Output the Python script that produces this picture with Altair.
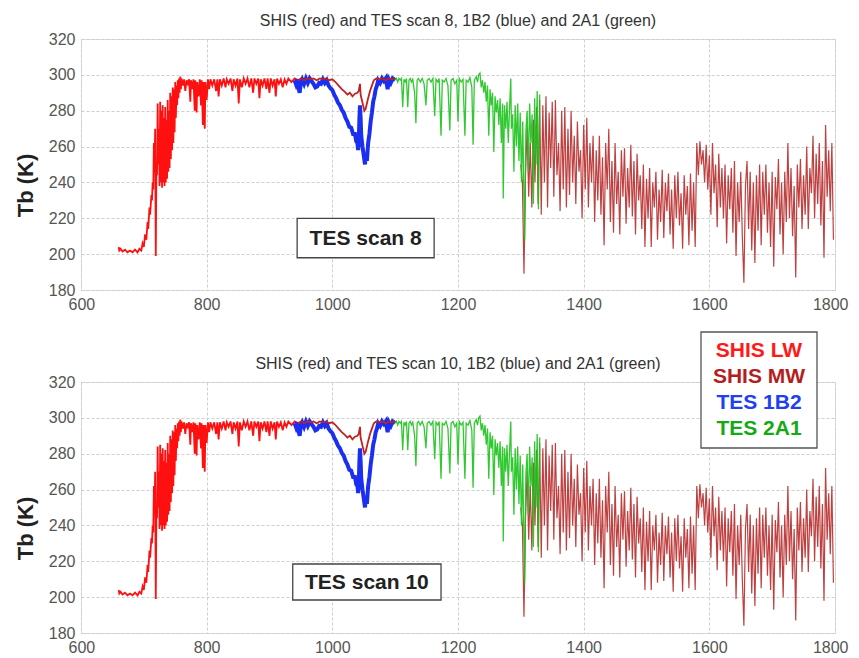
import altair as alt
import pandas as pd
import numpy as np

FONT = "Liberation Sans"

# ---------------- data ----------------
# SHIS longwave (bright red part) wavenumber / Tb
lw_wn = [660, 661, 663, 666, 670, 674, 678, 682, 686, 690, 693, 696, 698, 700, 702, 704, 706, 707, 709, 710,
         712, 713, 714, 715, 716, 717, 718, 719, 720, 721, 722, 723, 724, 725, 726, 727, 728, 729, 730, 731,
         732, 733, 734, 735, 736, 737, 738, 739, 740, 741, 742, 743, 744, 745, 746, 747, 748, 749, 750, 751,
         752, 753, 754, 755, 756, 757, 758, 759, 760, 762, 764, 766, 768, 770, 772, 774, 775, 777, 779, 781,
         782, 784, 785, 787, 789, 791, 792, 794, 795, 797, 798, 800, 802, 804, 806, 809, 812, 815, 817, 819,
         821, 824, 827, 830, 832, 835, 838, 841, 843, 846, 849, 851, 853, 856, 859, 862, 865, 868, 871, 874,
         876, 879, 882, 884, 886, 889, 892, 895, 897, 900, 902, 905, 908, 910, 912, 915, 918, 921, 924, 927,
         930, 935, 940, 945]
lw_tb = [204, 202, 203, 201.5, 202.5, 201, 202, 201, 202.5, 201, 203, 202, 206, 204, 211, 208, 218, 214, 226, 222,
         233, 230, 240, 236, 262, 246, 270, 199, 250, 244, 284, 250, 270, 238, 285, 240, 280, 237, 283, 240,
         276, 238, 282, 240, 275, 242, 286, 246, 280, 248, 290, 253, 288, 258, 293, 262, 292, 268, 296, 276,
         294, 283, 297, 287, 298, 290, 299, 292, 298, 294, 297.5, 291, 297, 295, 297.5, 285, 297, 292, 297.5, 280,
         297, 279, 296, 288, 297.5, 283, 297, 272, 296, 270, 296, 286, 297.5, 292, 297.5, 294, 297.5, 291, 297.5, 288,
         297.5, 294, 298, 293, 297.5, 295, 298, 291, 297.5, 294, 298, 284, 297.5, 293, 298, 295, 298, 293, 298, 290,
         298, 295, 298, 287, 297.5, 294, 298, 292, 298, 290, 298, 294, 297.5, 288, 298, 295, 297.5, 293, 297.5, 295,
         298, 296, 298, 297]

# SHIS longwave, part drawn over the TES 1B2 band
lw2_wn = [945, 950, 955, 960, 965, 970, 975, 980, 985, 990, 995, 1000, 1005, 1010, 1015, 1020, 1024, 1028, 1032,
          1036, 1040, 1042, 1044, 1045, 1047, 1049, 1051, 1053, 1055, 1057, 1060, 1063, 1066, 1070, 1075, 1080,
          1085, 1090, 1095, 1100]
lw2_tb = [297, 298, 297, 298, 297.5, 298, 297, 298, 297.5, 298, 297, 297.5, 296, 294, 292, 290.5, 289, 290, 288,
          289.5, 290, 291, 295, 289, 286, 283, 280, 281, 284, 287, 291, 294, 297, 298, 297.5, 298,
          297, 298, 297.5, 298]

# TES 1B2 (blue)
b_wn = [940, 942, 944, 946, 948, 950, 952, 955, 958, 961, 964, 967, 970, 973, 976, 979, 982, 985, 988, 991,
        994, 997, 1000, 1003, 1006, 1009, 1012, 1015, 1018, 1021, 1024, 1027, 1030, 1033, 1036, 1038, 1040, 1041,
        1042, 1043, 1044, 1045, 1046, 1048, 1050, 1052, 1053, 1055, 1057, 1059, 1061, 1063, 1065, 1067, 1069,
        1071, 1073, 1076, 1079, 1082, 1085, 1088, 1090, 1093, 1096, 1100]
b_tb = [297, 295, 297.5, 293, 290, 296, 297.5, 295, 298, 295.5, 298, 296.5, 295, 293, 293.5, 295.5, 295, 297.5, 295.5, 297,
        294, 292.5, 291.5, 289, 287, 284.5, 283, 280.5, 279, 276, 274, 271, 270.5, 267, 267, 263, 262, 258,
        262, 275, 283, 276, 266, 260, 255, 250, 256, 252, 262, 267, 274, 279, 285, 288, 292,
        294, 297, 295.5, 298, 296.5, 298, 292, 297.5, 295.5, 298, 297]

# TES 2A1 (green)
g_wn = [1100, 1102, 1104, 1106, 1108, 1110, 1112, 1114, 1116, 1118, 1120, 1122, 1124, 1126, 1128, 1131, 1133, 1135,
        1137, 1140, 1143, 1146, 1149, 1151, 1154, 1157, 1160, 1163, 1165, 1168, 1170, 1173, 1175, 1178, 1181, 1184,
        1187, 1189, 1192, 1195, 1198, 1200, 1202, 1205, 1208, 1211, 1213, 1216, 1219, 1222, 1224, 1226, 1229, 1231,
        1233, 1235, 1237, 1239, 1241, 1243, 1245, 1247, 1249, 1251, 1253, 1255, 1257, 1259, 1261, 1263, 1265, 1267,
        1269, 1271, 1272, 1274, 1276, 1278, 1280, 1282, 1284, 1285, 1287, 1289, 1291, 1293, 1295, 1297, 1299, 1301,
        1303, 1305, 1306, 1308, 1310, 1312, 1314, 1316, 1318, 1320, 1322, 1324, 1326, 1328, 1330]
g_tb = [297, 298, 296, 298, 297, 298, 282, 297.5, 296, 298, 282, 297, 298, 296, 297.5, 290, 273, 297,
        298, 296, 298, 295, 283, 297, 298, 296, 298, 277, 297.5, 296, 298, 266, 297, 296, 298, 294,
        269, 297, 298, 295, 297, 274, 298, 296, 297.5, 266, 297, 296, 298.5, 293, 261, 297, 299, 296,
        300, 301, 293, 297, 290, 296, 285, 294, 266, 292, 283, 290, 257, 288, 279, 286, 272, 287,
        262, 284, 231, 283, 270, 285, 262, 281, 298, 270, 278, 246, 283, 260, 284, 252, 279, 240,
        274, 230, 207, 268, 280, 246, 284, 262, 278, 228, 287, 250, 291, 225, 289]

# SHIS midwave (dark red), sampled every 2.5 cm-1 from 1300
mw_start, mw_step = 1300.0, 2.5
mw_tb = [250, 240, 189, 245, 270, 232, 262, 226, 275, 240,
         282, 228, 286, 222, 283, 240, 288, 226, 279, 248,
         285, 232, 286, 244, 262, 224, 280, 236, 282, 226,
         270, 233, 280, 240, 266, 228, 274, 246, 258, 220,
         272, 236, 276, 226, 262, 240, 266, 218, 258, 230,
         266, 222, 254, 205, 262, 236, 270, 218, 252, 212,
         262, 228, 246, 211, 258, 232, 259, 217, 248, 226,
         261, 221, 252, 211, 256, 230, 244, 214, 250, 204,
         242, 220, 248, 204, 240, 226, 246, 208, 236, 218,
         247, 209, 240, 224, 245, 211, 236, 203, 244, 220,
         246, 216, 234, 203, 244, 222, 238, 205, 245, 213,
         240, 204, 262, 244, 263, 250, 258, 240, 261, 236,
         255, 222, 262, 234, 250, 215, 256, 226, 248, 220,
         250, 206, 244, 225, 248, 212, 252, 199, 240, 218,
         246, 210, 184, 238, 252, 214, 246, 202, 240, 195,
         244, 213, 250, 205, 246, 222, 250, 212, 240, 204,
         246, 193, 243, 225, 253, 211, 240, 200, 246, 218,
         262, 220, 248, 210, 238, 187, 250, 226, 253, 214,
         244, 222, 260, 214, 248, 234, 266, 220, 256, 228,
         262, 216, 252, 198, 272, 232, 258, 224, 262, 208]
mw_wn = list(mw_start + mw_step * np.arange(len(mw_tb)))

legend_labels = ["SHIS LW", "SHIS MW", "TES 1B2", "TES 2A1"]
legend_colors = ["#ff1a1a", "#b41e1e", "#1f3ff0", "#15a915"]

titles = ["SHIS (red) and TES scan 8, 1B2 (blue) and 2A1 (green)",
          "SHIS (red) and TES scan 10, 1B2 (blue) and 2A1 (green)"]
box_labels = ["TES scan 8", "TES scan 10"]
box_x = [(944, 1162), (937, 1173)]
box_y = [(198, 220), (198.4, 218.5)]

x_ticks = [600, 800, 1000, 1200, 1400, 1600, 1800]
y_ticks = [180, 200, 220, 240, 260, 280, 300, 320]

# ---------------- chart ----------------
W, H = 754, 251
xs = alt.Scale(domain=[600, 1800], nice=False, zero=False, padding=0)
ys = alt.Scale(domain=[180, 320], nice=False, zero=False, padding=0)
xax = alt.Axis(values=x_ticks, title=None, ticks=False, domain=False, labelPadding=6,
               labelFontSize=16, labelColor="#555", labelFont=FONT, grid=True,
               labelFlush=True, labelFlushOffset=13,
               gridColor="#cfcfcf", gridDash=[3, 2], format="d")
yax = alt.Axis(values=y_ticks, title="Tb (K)", ticks=False, domain=False, labelPadding=6,
               labelFontSize=16, labelColor="#555", labelFont=FONT, grid=True, labelFlush=False,
               gridColor="#cfcfcf", gridDash=[3, 2], titleFontSize=22, titleFont=FONT,
               titleFontWeight="bold", titleColor="#222", titleX=-56, titleY=146,
               titleAngle=270, titleBaseline="middle", titleAlign="center")

series = [
    (mw_wn, mw_tb, "#b41e1e", 1.2, 0.85),
    (lw_wn, lw_tb, "#ff1010", 1.8, 1.0),
    (b_wn, b_tb, "#1a2ff0", 4.0, 1.0),
    (lw2_wn, lw2_tb, "#c02222", 1.8, 1.0),
    (g_wn, g_tb, "#1cc21c", 1.3, 0.9),
]


def panel(i, with_legend):
    layers = []
    for wn, tb, col, sw, op in series:
        df = pd.DataFrame({"wn": wn, "tb": tb})
        layers.append(
            alt.Chart(df).mark_line(color=col, strokeWidth=sw, opacity=op, clip=True).encode(
                x=alt.X("wn:Q", scale=xs, axis=xax),
                y=alt.Y("tb:Q", scale=ys, axis=yax),
            )
        )
    bdf = pd.DataFrame({"x1": [box_x[i][0]], "x2": [box_x[i][1]],
                        "y1": [box_y[i][0]], "y2": [box_y[i][1]], "label": [box_labels[i]]})
    layers.append(
        alt.Chart(bdf).mark_rect(fill="white", stroke="#444", strokeWidth=1.3).encode(
            x=alt.X("x1:Q", scale=xs, axis=xax), x2="x2:Q",
            y=alt.Y("y1:Q", scale=ys, axis=yax), y2="y2:Q")
    )
    layers.append(
        alt.Chart(bdf).transform_calculate(xm="(datum.x1+datum.x2)/2", ym="(datum.y1+datum.y2)/2")
        .mark_text(font=FONT, fontSize=21, fontWeight="bold", color="#222", baseline="middle", dy=1)
        .encode(x=alt.X("xm:Q", scale=xs, axis=xax), y=alt.Y("ym:Q", scale=ys, axis=yax), text="label:N")
    )
    # panel title, drawn as text just above the plot frame
    layers.append(
        alt.Chart(pd.DataFrame({"t": [titles[i]]})).mark_text(
            font=FONT, fontSize=16, color="#333", baseline="middle", align="center"
        ).encode(x=alt.value(W / 2), y=alt.value(-18), text="t:N")
    )
    if with_legend:
        one = pd.DataFrame({"k": [0]})
        layers.append(
            alt.Chart(one).mark_rect(fill="white", stroke="#555", strokeWidth=1.3).encode(
                x=alt.value(620), x2=alt.value(736), y=alt.value(-50), y2=alt.value(66))
        )
        for j, (lab, col) in enumerate(zip(legend_labels, legend_colors)):
            layers.append(
                alt.Chart(pd.DataFrame({"t": [lab]})).mark_text(
                    font=FONT, fontSize=21, fontWeight="bold", color=col, baseline="middle", align="center"
                ).encode(x=alt.value(678), y=alt.value(-31 + 26 * j), text="t:N")
            )
    return alt.layer(*layers).properties(width=W, height=H)


chart = alt.vconcat(panel(0, False), panel(1, True), spacing=17).properties(
    padding={"left": 5, "top": 4, "right": 0, "bottom": 0}
).configure_view(stroke="#888", strokeWidth=1.2).configure(background="white")

chart.save("out.html", embed_options={"renderer": "svg", "actions": False})
